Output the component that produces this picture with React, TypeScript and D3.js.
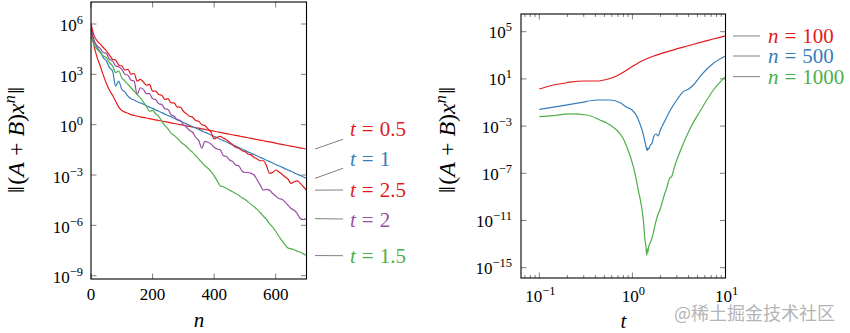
import React from "react";
import * as d3 from "d3";

// ---------- Left panel data: log10 ||(A+B)x^n|| versus n ----------
const nSteps = [
  0, 10, 20, 30, 40, 50, 60, 70, 80, 90, 100, 110, 120, 130, 140, 150, 160, 170, 180, 190,
  200, 210, 220, 230, 240, 250, 260, 270, 280, 290, 300, 310, 320, 330, 340, 350, 360, 370, 380, 390,
  400, 410, 420, 430, 440, 450, 460, 470, 480, 490, 500, 510, 520, 530, 540, 550, 560, 570, 580, 590,
  600, 610, 620, 630, 640, 650, 660, 670, 680, 690, 700,
];

const logT05 = [
  5.9, 4.7, 4.0, 3.5, 2.95, 2.45, 2.05, 1.75, 1.4, 1.05, 0.85, 0.75, 0.68, 0.6, 0.55, 0.5, 0.46, 0.43, 0.4, 0.36,
  0.32, 0.29, 0.25, 0.22, 0.18, 0.15, 0.11, 0.07, 0.04, 0.0, -0.03, -0.07, -0.1, -0.14, -0.17, -0.21, -0.25, -0.28, -0.32, -0.35,
  -0.39, -0.42, -0.46, -0.5, -0.53, -0.57, -0.6, -0.64, -0.67, -0.71, -0.74, -0.78, -0.82, -0.85, -0.89, -0.92, -0.96, -0.99, -1.03, -1.06,
  -1.1, -1.14, -1.17, -1.21, -1.24, -1.28, -1.31, -1.35, -1.38, -1.42, -1.45,
];

const logT1 = [
  5.6, 5.0, 4.6, 4.35, 4.0, 3.8, 3.4, 3.2, 2.3, 2.6, 2.1, 1.95, 1.7, 1.55, 1.47, 1.38, 1.3, 1.22, 1.13, 1.05,
  0.97, 0.88, 0.8, 0.72, 0.63, 0.55, 0.47, 0.38, 0.3, 0.22, 0.13, 0.05, -0.03, -0.12, -0.2, -0.28, -0.37, -0.45, -0.53, -0.62,
  -0.7, -0.78, -0.87, -0.95, -1.03, -1.12, -1.2, -1.28, -1.37, -1.45, -1.53, -1.62, -1.7, -1.78, -1.87, -1.95, -2.03, -2.12, -2.2, -2.28,
  -2.37, -2.45, -2.53, -2.62, -2.7, -2.78, -2.87, -2.95, -3.03, -3.12, -3.2,
];

const logT15 = [
  5.3, 4.75, 4.5, 4.3, 4.1, 4.0, 3.7, 3.5, 3.1, 3.2, 2.8, 2.6, 2.4, 2.2, 2.0, 1.8, 1.6, 1.35, 1.1, 0.8,
  0.85, 0.65, 0.5, 0.2, -0.05, -0.25, -0.5, -0.65, -0.8, -1.0, -1.15, -1.3, -1.5, -1.65, -1.85, -2.05, -2.25, -2.45, -2.6, -2.8,
  -3.05, -3.35, -3.65, -3.7, -3.8, -3.9, -4.0, -4.1, -4.2, -4.35, -4.45, -4.6, -4.75, -4.9, -5.05, -5.25, -5.45, -5.65, -5.9, -6.1,
  -6.35, -6.65, -6.9, -7.15, -7.35, -7.4, -7.45, -7.55, -7.6, -7.7, -7.8,
];

const logT2 = [
  5.7, 5.0, 4.7, 4.55, 4.3, 4.25, 3.9, 3.8, 3.5, 3.45, 3.3, 3.0, 2.95, 2.65, 2.6, 1.8, 2.2, 2.1, 1.85, 1.85,
  1.55, 1.5, 1.25, 1.2, 0.95, 0.9, 0.6, 0.5, 0.3, 0.25, 0.0, -0.15, -0.35, -0.45, -0.75, -0.95, -1.4, -1.0, -1.05, -1.15,
  -1.35, -1.45, -1.5, -1.85, -1.9, -2.1, -2.2, -2.4, -2.45, -2.75, -2.85, -2.85, -2.9, -3.0, -3.3, -3.6, -3.9, -3.85, -3.9, -4.1,
  -4.25, -4.4, -4.45, -4.6, -4.8, -5.0, -5.1, -5.3, -5.6, -5.65, -5.6,
];

const logT25 = [
  6.0, 5.3, 5.0, 4.8, 4.6, 4.4, 4.15, 3.9, 3.85, 3.55, 3.5, 3.25, 3.3, 3.0, 3.05, 2.6, 2.7, 2.55, 2.35, 2.4,
  2.0, 2.0, 1.8, 1.75, 1.5, 1.55, 1.3, 1.3, 1.05, 1.05, 0.8, 0.65, 0.5, 0.45, 0.25, 0.2, 0.0, -0.05, -0.25, -0.45,
  -0.85, -0.75, -0.7, -0.8, -0.9, -1.05, -1.2, -1.35, -1.4, -1.55, -1.6, -1.75, -1.8, -1.95, -2.05, -2.15, -2.15, -2.45, -2.9, -2.85,
  -2.7, -2.8, -2.95, -3.1, -3.25, -3.5, -3.4, -3.35, -3.5, -3.7, -3.9,
];

const leftSeries = [
  { label: "0.5", color: "#e41a1c", values: logT05 },
  { label: "1", color: "#377eb8", values: logT1 },
  { label: "2.5", color: "#e41a1c", values: logT25 },
  { label: "2", color: "#984ea3", values: logT2 },
  { label: "1.5", color: "#4daf4a", values: logT15 },
];
const leftXTicks = [0, 200, 400, 600];
const leftYTicks = [6, 3, 0, -3, -6, -9];

// ---------- Right panel data: log10 ||(A+B)x^n|| versus log10 t ----------
const n100LogT = [-1, -0.85, -0.74, -0.67, -0.52, -0.38, -0.27, -0.17, -0.06, 0.085, 0.23, 0.41, 0.59, 0.77, 1.0];
const n100LogV = [0.14, 0.48, 0.63, 0.72, 0.82, 0.82, 0.97, 1.25, 1.75, 2.46, 2.94, 3.39, 3.79, 4.18, 4.64];

const n500LogT = [
  -1, -0.78, -0.56, -0.38, -0.24, -0.13, -0.06, -0.004, 0.05, 0.085, 0.114, 0.131, 0.146, 0.157, 0.166, 0.175,
  0.193, 0.211, 0.228, 0.254, 0.276, 0.3, 0.336, 0.408, 0.476, 0.547, 0.6, 0.654, 0.726, 0.87, 1.0,
];
const n500LogV = [
  -1.58, -1.3, -1.01, -0.79, -0.79, -1.02, -1.4, -1.64, -2.2, -2.9, -3.61, -4.18, -4.74, -5.08, -4.85, -4.95,
  -4.6, -4.46, -3.9, -3.67, -3.84, -3.33, -2.76, -1.64, -0.79, -0.08, 0.12, 0.48, 1.19, 2.32, 2.94,
];

const n1000LogT = [
  -1, -0.85, -0.67, -0.49, -0.35, -0.24, -0.17, -0.11, -0.06, 0.01, 0.063, 0.117, 0.135, 0.145, 0.154, 0.16,
  0.166, 0.175, 0.19, 0.22, 0.245, 0.27, 0.3, 0.34, 0.37, 0.4, 0.42, 0.45, 0.52, 0.62, 0.73, 0.87, 1.0,
];
const n1000LogV = [
  -2.2, -2.12, -1.97, -2.06, -2.48, -2.9, -3.33, -3.9, -4.75, -6.44, -8.42, -10.96, -12.65, -13.2, -13.95, -13.4,
  -13.7, -13.2, -12.93, -12.2, -11.3, -10.6, -10.0, -8.9, -8.2, -7.4, -7.3, -6.5, -5.0, -3.2, -1.7, 0.06, 1.19,
];

const rightSeries = [
  { label: "100", color: "#e41a1c", t: n100LogT, v: n100LogV },
  { label: "500", color: "#377eb8", t: n500LogT, v: n500LogV },
  { label: "1000", color: "#4daf4a", t: n1000LogT, v: n1000LogV },
];
const rightXTicks = [-1, 0, 1];
const rightYTicks = [5, 1, -3, -7, -11, -15];

// ---------- layout ----------
const FONT = "Liberation Serif, DejaVu Serif, Times New Roman, serif";
const TICK = "#808080";

const L = { x0: 91, x1: 306.5, y0: 2, y1: 279 };
const R = { x0: 521, x1: 725.5, y0: 14, y1: 278 };

const lx = d3.scaleLinear().domain([0, 700]).range([L.x0, L.x1]);
const ly = d3.scaleLog().domain([10 ** -9.197, 10 ** 7.311]).range([L.y1, L.y0]);
const rx = d3.scaleLog().domain([10 ** -1.197, 10]).range([R.x0, R.x1]);
const ry = d3.scaleLog().domain([10 ** -15.873, 10 ** 6.5]).range([R.y1, R.y0]);

const leftLegendEnd = [139.3, 168.3, 190, 219, 255.7];
const leftLegendBase = [135.7, 165.7, 197.3, 226.7, 263.3];

function Pow({ x, y, e, anchor }: { x: number; y: number; e: number; anchor: string }) {
  const s = e < 0 ? "\u2212" + Math.abs(e) : String(e);
  return (
    <text x={x} y={y} textAnchor={anchor} style={{ fontFamily: FONT }} fontSize={17} fill="#000">
      10
      <tspan dy={-7} fontSize={12.5}>
        {s}
      </tspan>
    </text>
  );
}

function YLabel({ x, y }: { x: number; y: number }) {
  return (
    <text
      transform={`translate(${x},${y}) rotate(-90)`}
      textAnchor="middle"
      style={{ fontFamily: FONT }}
      fontSize={24}
      fill="#000"
    >
      {"\u2016"}
      <tspan dx={1.5}>(</tspan>
      <tspan fontStyle="italic">A</tspan>
      <tspan dx={6}>+</tspan>
      <tspan dx={6} fontStyle="italic">B</tspan>
      {")"}
      <tspan fontStyle="italic">x</tspan>
      <tspan dy={-9} fontSize={16} fontStyle="italic">
        n
      </tspan>
      <tspan dy={9} dx={1.5}>{"\u2016"}</tspan>
    </text>
  );
}

function Legend({ x, y, v, val, color }: { x: number; y: number; v: string; val: string; color: string }) {
  return (
    <text x={x} y={y} style={{ fontFamily: FONT }} fontSize={21} fill={color}>
      <tspan fontStyle="italic">{v}</tspan>
      <tspan dx={6}>=</tspan>
      <tspan dx={6}>{val}</tspan>
    </text>
  );
}

export default function App() {
  const leftLine = d3
    .line<number>()
    .x((_, i) => lx(nSteps[i]))
    .y((d) => ly(10 ** d))
    .curve(d3.curveMonotoneX);

  const rightLine = (t: number[]) =>
    d3
      .line<number>()
      .x((_, i) => rx(10 ** t[i]))
      .y((d) => ry(10 ** d))
      .curve(d3.curveMonotoneX);

  const minor: number[] = [];
  for (let k = -2; k <= 0; k++) {
    for (let m = 2; m <= 9; m++) {
      const v = m * 10 ** k;
      if (v > 10 ** -1.197 && v < 10) minor.push(v);
    }
  }

  return (
    <svg
      width={850}
      height={333}
      style={{ position: "absolute", left: 0, top: 0, display: "block", background: "#fff" }}
    >
      <rect x={0} y={0} width={850} height={333} fill="#fff" />
      <defs>
        <clipPath id="clipL">
          <rect x={L.x0} y={L.y0} width={L.x1 - L.x0} height={L.y1 - L.y0} />
        </clipPath>
        <clipPath id="clipR">
          <rect x={R.x0} y={R.y0} width={R.x1 - R.x0} height={R.y1 - R.y0} />
        </clipPath>
      </defs>

      {/* ---------------- LEFT PANEL ---------------- */}
      {leftYTicks.map((e) => {
        const y = ly(10 ** e);
        return (
          <g key={"ly" + e}>
            <line x1={L.x0} x2={L.x0 + 5.5} y1={y} y2={y} stroke={TICK} strokeWidth={1} />
            <line x1={L.x1} x2={L.x1 - 5.5} y1={y} y2={y} stroke={TICK} strokeWidth={1} />
            <Pow x={83} y={y + 7.5} e={e} anchor="end" />
          </g>
        );
      })}
      {leftXTicks.map((v) => {
        const x = lx(v);
        return (
          <g key={"lx" + v}>
            <line x1={x} x2={x} y1={L.y1} y2={L.y1 - 5.5} stroke={TICK} strokeWidth={1} />
            <line x1={x} x2={x} y1={L.y0} y2={L.y0 + 5.5} stroke={TICK} strokeWidth={1} />
            <text x={x} y={299.5} textAnchor="middle" style={{ fontFamily: FONT }} fontSize={17}>
              {v}
            </text>
          </g>
        );
      })}

      <g clipPath="url(#clipL)">
        {leftSeries.map((s) => (
          <path key={"ls" + s.label} d={leftLine(s.values) || ""} fill="none" stroke={s.color} strokeWidth={1.2} />
        ))}
      </g>
      <rect x={L.x0} y={L.y0} width={L.x1 - L.x0} height={L.y1 - L.y0} fill="none" stroke="#000" strokeWidth={1.1} />

      {leftSeries.map((s, i) => {
        const yEnd = ly(10 ** s.values[s.values.length - 1]);
        return (
          <g key={"lg" + s.label}>
            <line x1={L.x1 + 8.5} y1={yEnd} x2={343} y2={leftLegendEnd[i]} stroke={TICK} strokeWidth={1} />
            <Legend x={350} y={leftLegendBase[i]} v="t" val={s.label} color={s.color} />
          </g>
        );
      })}

      <YLabel x={24} y={140} />
      <text x={199} y={326.5} textAnchor="middle" style={{ fontFamily: FONT }} fontSize={21} fontStyle="italic">
        n
      </text>

      {/* ---------------- RIGHT PANEL ---------------- */}
      {rightYTicks.map((e) => {
        const y = ry(10 ** e);
        return (
          <g key={"ry" + e}>
            <line x1={R.x0} x2={R.x0 + 5.5} y1={y} y2={y} stroke={TICK} strokeWidth={1} />
            <line x1={R.x1} x2={R.x1 - 5.5} y1={y} y2={y} stroke={TICK} strokeWidth={1} />
            <Pow x={512} y={y + 6.6} e={e} anchor="end" />
          </g>
        );
      })}
      {rightXTicks.map((e) => {
        const x = rx(10 ** e);
        return (
          <g key={"rx" + e}>
            <line x1={x} x2={x} y1={R.y1} y2={R.y1 - 5.5} stroke={TICK} strokeWidth={1} />
            <line x1={x} x2={x} y1={R.y0} y2={R.y0 + 5.5} stroke={TICK} strokeWidth={1} />
            <Pow x={x + 1} y={302} e={e} anchor="middle" />
          </g>
        );
      })}
      {minor.map((v, i) => {
        const x = rx(v);
        return (
          <g key={"rm" + i}>
            <line x1={x} x2={x} y1={R.y1} y2={R.y1 - 3} stroke={TICK} strokeWidth={1} />
            <line x1={x} x2={x} y1={R.y0} y2={R.y0 + 3} stroke={TICK} strokeWidth={1} />
          </g>
        );
      })}

      <g clipPath="url(#clipR)">
        {rightSeries.map((s) => (
          <path key={"rs" + s.label} d={rightLine(s.t)(s.v) || ""} fill="none" stroke={s.color} strokeWidth={1.2} />
        ))}
      </g>
      <rect x={R.x0} y={R.y0} width={R.x1 - R.x0} height={R.y1 - R.y0} fill="none" stroke="#000" strokeWidth={1.1} />

      {rightSeries.map((s) => {
        const y = ry(10 ** s.v[s.v.length - 1]);
        return (
          <g key={"rg" + s.label}>
            <line x1={733} x2={760} y1={y} y2={y} stroke={TICK} strokeWidth={1} />
            <Legend x={768} y={y + 7.3} v="n" val={s.label} color={s.color} />
          </g>
        );
      })}

      <YLabel x={455} y={140} />
      <text x={623.5} y={328} textAnchor="middle" style={{ fontFamily: FONT }} fontSize={21} fontStyle="italic">
        t
      </text>

      <text
        x={835}
        y={320}
        textAnchor="end"
        style={{ fontFamily: "'Noto Sans CJK SC', sans-serif" }}
        fontSize={18}
        fill="#b4b4b4"
      >
        @稀土掘金技术社区
      </text>
    </svg>
  );
}
